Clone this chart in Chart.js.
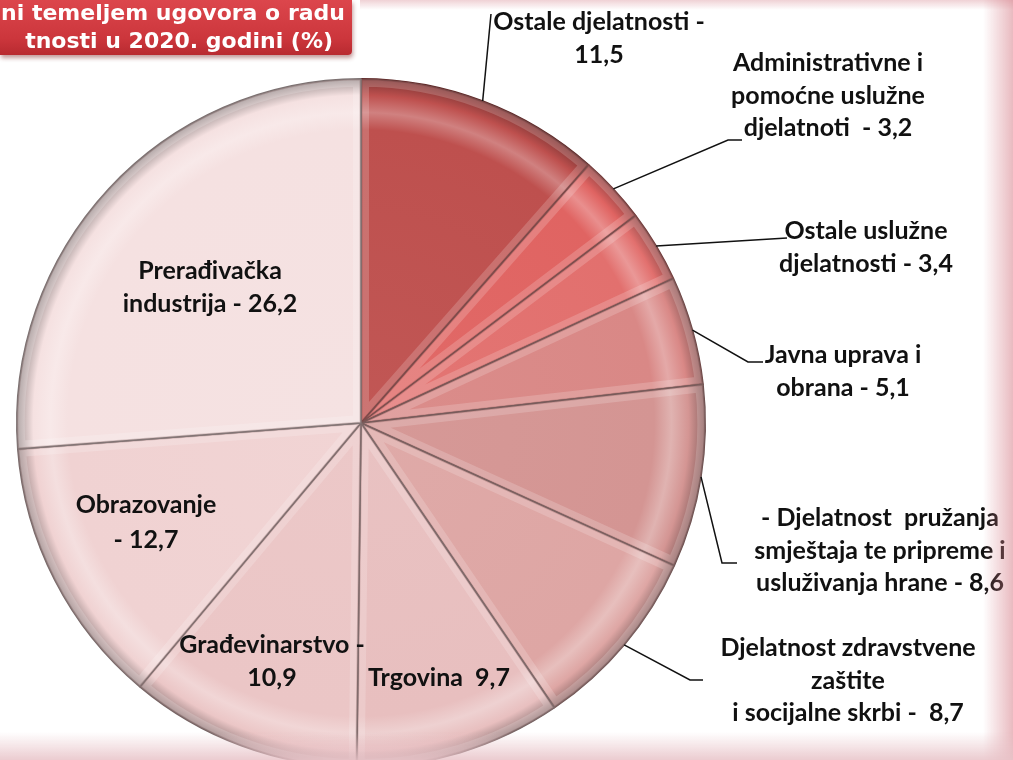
<!DOCTYPE html>
<html>
<head>
<meta charset="utf-8">
<script src="https://cdn.jsdelivr.net/npm/chart.js@4.4.1/dist/chart.umd.min.js"></script>
<style>
  html, body { margin: 0; padding: 0; width: 1013px; height: 760px; overflow: hidden; background: #fff; }
  #wrap { position: absolute; left: 0; top: 0; width: 1013px; height: 800px; }
  #edgeRight { position: absolute; right: 0; top: 0; width: 30px; height: 760px;
    background: linear-gradient(to right, rgba(235,190,195,0), rgba(215,130,140,0.55)); pointer-events: none; }
  #edgeBottom { position: absolute; left: 0; bottom: 0; width: 1013px; height: 28px;
    background: linear-gradient(to bottom, rgba(245,225,228,0), rgba(232,195,200,0.85)); pointer-events: none; }
  #edgeTop { position: absolute; left: 360px; top: 0; width: 653px; height: 10px;
    background: linear-gradient(to top, rgba(240,210,214,0), rgba(225,165,172,0.5)); pointer-events: none; }
  #title { position: absolute; left: 0; top: 0; width: 352px; height: 55px;
    background: linear-gradient(#dc464c, #cc363c 70%, #b82a30);
    border-bottom-right-radius: 4px; box-shadow: 1px 3px 4px rgba(120,30,30,0.45);
    color: #fff; font: bold 22px "DejaVu Sans", Verdana, sans-serif; overflow: hidden; }
  #title div { position: absolute; right: 0; white-space: nowrap; text-align: right; }
</style>
</head>
<body>
<div id="wrap"><canvas id="chart" width="1013" height="800"></canvas></div>
<div id="edgeTop"></div>
<div id="edgeRight"></div>
<div id="edgeBottom"></div>
<div id="title">
  <div style="top:0px; right:7px;">ni temeljem ugovora o radu</div>
  <div style="top:28px; right:19px;">tnosti u 2020. godini (%)</div>
</div>
<script>
// data, clockwise from 12 o'clock
const categories = [
  'Ostale djelatnosti',
  'Administrativne i pomoćne uslužne djelatnoti',
  'Ostale uslužne djelatnosti',
  'Javna uprava i obrana',
  'Djelatnost pružanja smještaja te pripreme i usluživanja hrane',
  'Djelatnost zdravstvene zaštite i socijalne skrbi',
  'Trgovina',
  'Građevinarstvo',
  'Obrazovanje',
  'Prerađivačka industrija'
];
const values = [11.5, 3.2, 3.4, 5.1, 8.6, 8.7, 9.7, 10.9, 12.7, 26.2];

// label text as it is broken in the picture, {v} = value
const labelLines = [
  ['Ostale djelatnosti -', '{v}'],
  ['Administrativne i', 'pomoćne uslužne', 'djelatnoti  - {v}'],
  ['Ostale uslužne', 'djelatnosti - {v}'],
  ['Javna uprava i', 'obrana - {v}'],
  ['- Djelatnost  pružanja', 'smještaja te pripreme i', 'usluživanja hrane - {v}'],
  ['Djelatnost zdravstvene', 'zaštite', 'i socijalne skrbi -  {v}'],
  ['Trgovina  {v}'],
  ['Građevinarstvo -', '{v}'],
  ['Obrazovanje', '- {v}'],
  ['Prerađivačka', 'industrija - {v}']
];

const sliceColors = ['#be504e', '#e06462', '#e2706e', '#d98886', '#d49593', '#dea6a4',
                     '#e8bfbf', '#ebc6c6', '#f0d2d2', '#f5e1e1'];

// label placement (centre x, first line y, leader bends)
const labelPos = [
  { x: 599, y: 22, leader: [[491, 14]] },
  { x: 828, y: 63, leader: [[728, 140], [742, 140]] },
  { x: 866, y: 231, leader: [[787, 238]] },
  { x: 843, y: 355, leader: [[748, 362], [763, 362]] },
  { x: 880, y: 518, leader: [[722, 563], [737, 563]] },
  { x: 848, y: 648, leader: [[690, 680], [703, 680]] },
  { x: 439, y: 678 },
  { x: 272, y: 645 },
  { x: 146, y: 505, lh: 35 },
  { x: 210, y: 271 }
];

function shade(hex, amt) {
  const n = parseInt(hex.slice(1), 16);
  let r = n >> 16, g = (n >> 8) & 255, b = n & 255;
  const t = amt < 0 ? 0 : 255, p = Math.abs(amt);
  r = Math.round(r + (t - r) * p); g = Math.round(g + (t - g) * p); b = Math.round(b + (t - b) * p);
  return 'rgb(' + r + ',' + g + ',' + b + ')';
}

function sliceFill(c) {
  const base = sliceColors[c.dataIndex];
  const area = c.chart.chartArea;
  if (!area) return base;
  const cx = (area.left + area.right) / 2, cy = (area.top + area.bottom) / 2;
  const r = Math.min(area.right - area.left, area.bottom - area.top) / 2;
  const g = c.chart.ctx.createRadialGradient(cx, cy, 0, cx, cy, r);
  g.addColorStop(0, shade(base, 0.04));
  g.addColorStop(0.85, base);
  g.addColorStop(0.9, shade(base, 0.28));
  g.addColorStop(0.95, base);
  g.addColorStop(1, shade(base, -0.35));
  return g;
}

const labelPlugin = {
  id: 'sliceLabels',
  afterDatasetsDraw(chart) {
    const ctx = chart.ctx;
    const arcs = chart.getDatasetMeta(0).data;
    ctx.save();
    // soft inner bevel on each slice
    arcs.forEach(arc => {
      const a = arc.getProps(['x', 'y', 'startAngle', 'endAngle', 'outerRadius'], true);
      ctx.save();
      ctx.beginPath();
      ctx.moveTo(a.x, a.y);
      ctx.arc(a.x, a.y, a.outerRadius, a.startAngle, a.endAngle);
      ctx.closePath();
      ctx.clip();
      ctx.lineJoin = 'miter';
      ctx.strokeStyle = 'rgba(255,255,255,0.18)';
      ctx.lineWidth = 16;
      ctx.stroke();
      ctx.strokeStyle = 'rgba(70,30,30,0.18)';
      ctx.lineWidth = 3;
      ctx.stroke();
      ctx.restore();
    });
    ctx.strokeStyle = '#111';
    ctx.lineWidth = 1.5;
    arcs.forEach((arc, i) => {
      const p = labelPos[i];
      if (!p.leader) return;
      const a = arc.getProps(['x', 'y', 'startAngle', 'endAngle', 'outerRadius'], true);
      const mid = (a.startAngle + a.endAngle) / 2;
      ctx.beginPath();
      ctx.moveTo(a.x + Math.cos(mid) * a.outerRadius, a.y + Math.sin(mid) * a.outerRadius);
      p.leader.forEach(pt => ctx.lineTo(pt[0], pt[1]));
      ctx.stroke();
    });
    ctx.font = 'bold 25px Lato';
    ctx.textAlign = 'center';
    ctx.textBaseline = 'middle';
    ctx.fillStyle = '#111';
    labelLines.forEach((lines, i) => {
      const p = labelPos[i];
      const v = values[i].toFixed(1).replace('.', ',');
      lines.forEach((t, k) => {
        ctx.fillText(t.replace('{v}', v), p.x, p.y + k * (p.lh || 32.5));
      });
    });
    ctx.restore();
  }
};

new Chart(document.getElementById('chart'), {
  type: 'pie',
  data: {
    labels: categories,
    datasets: [{
      data: values,
      backgroundColor: sliceFill,
      borderColor: sliceColors.map(c => shade(c, -0.5)),
      borderWidth: 1.5
    }]
  },
  options: {
    responsive: false,
    animation: false,
    events: [],
    layout: { padding: { left: 16, top: 78, right: 307, bottom: 32 } },
    plugins: { legend: { display: false }, tooltip: { enabled: false }, title: { display: false } }
  },
  plugins: [labelPlugin]
});
</script>
</body>
</html>
